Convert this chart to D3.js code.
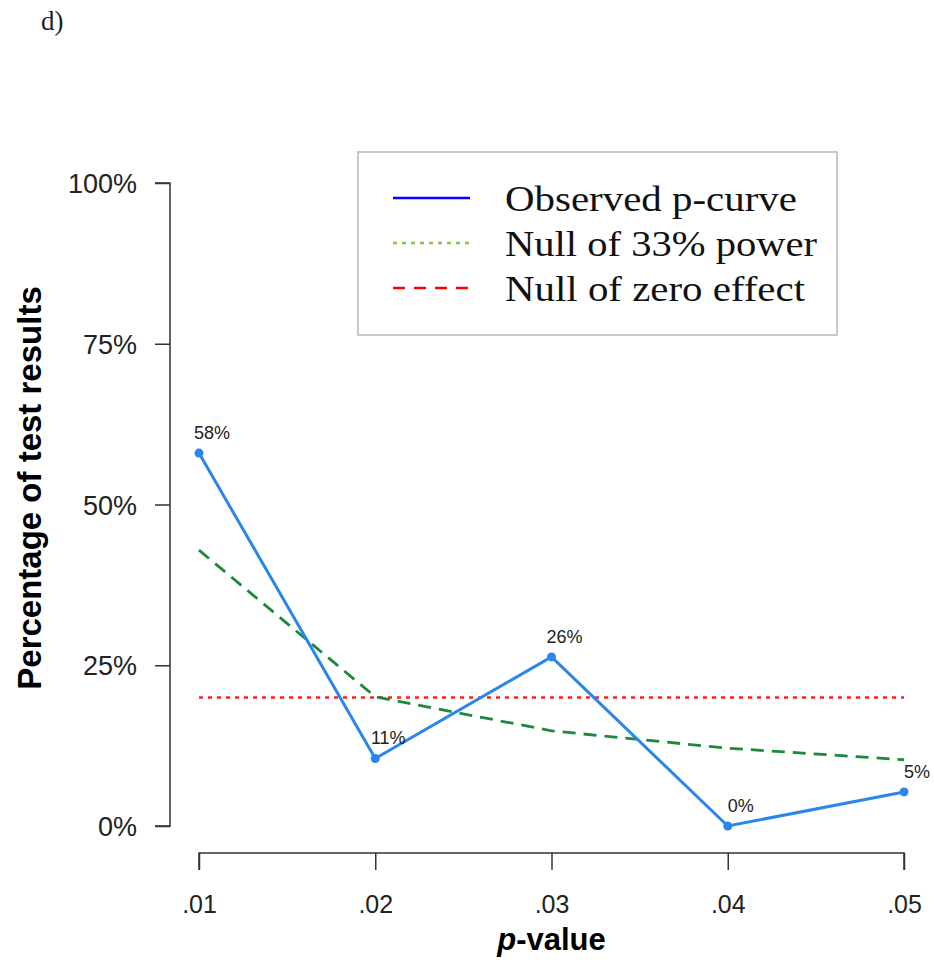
<!DOCTYPE html>
<html>
<head>
<meta charset="utf-8">
<script src="https://cdn.jsdelivr.net/npm/d3@7"></script>
<style>
  body { margin: 0; background: #fff; }
  svg { display: block; }
</style>
</head>
<body>
<div id="chart"></div>
<script>

// Data
var pValues = [0.01, 0.02, 0.03, 0.04, 0.05],
    xTickLabels = [".01", ".02", ".03", ".04", ".05"],
    observed = [58, 10.5, 26.3, 0, 5.3],
    observedLabels = ["58%", "11%", "26%", "0%", "5%"],
    null33 = [42.9, 20.1, 14.8, 12.1, 10.3],
    nullZero = [20, 20, 20, 20, 20],
    yTicks = [0, 25, 50, 75, 100];

var legendItems = [
    { label: "Observed p-curve", color: "#0000ff", dash: null, len: 292 },
    { label: "Null of 33% power", color: "#86c440", dash: "4,5", len: 312 },
    { label: "Null of zero effect", color: "#ff0000", dash: "12,9", len: 300 }
];

var width = 934,
    height = 963;

var svg = d3.select("#chart").append("svg")
    .attr("width", width)
    .attr("height", height);

// Scales
var x = d3.scaleLinear().domain([0.01, 0.05]).range([199, 904]);
var y = d3.scaleLinear().domain([0, 100]).range([826, 183]);

var sans = "'Liberation Sans', Arial, Helvetica, sans-serif",
    serif = "'Liberation Serif', 'Times New Roman', serif";

// Panel tag
svg.append("text")
    .attr("x", 41).attr("y", 30)
    .attr("font-family", serif)
    .attr("font-size", 27)
    .attr("fill", "#222")
    .text("d)");

// Y axis
var yAxis = svg.append("g")
    .attr("transform", "translate(170,0)")
    .call(d3.axisLeft(y).tickValues(yTicks).tickSize(15).tickPadding(18)
        .tickFormat(function(d) { return d + "%"; }));
yAxis.select(".domain").attr("d", "M-15," + y(0) + "H0V" + y(100) + "H-15");
yAxis.selectAll("path, line").attr("stroke", "#333").attr("stroke-width", 1.5);
yAxis.selectAll("text")
    .style("font-family", sans)
    .style("font-size", "27px")
    .attr("fill", "#222")
    .attr("dy", "0.36em");

// X axis
var xAxis = svg.append("g")
    .attr("transform", "translate(0,853)")
    .call(d3.axisBottom(x).tickValues(pValues).tickSize(17).tickPadding(25)
        .tickFormat(function(d, i) { return xTickLabels[i]; }));
xAxis.select(".domain").attr("d", "M" + x(0.01) + ",17V0H" + x(0.05) + "V17");
xAxis.selectAll("path, line").attr("stroke", "#333").attr("stroke-width", 1.5);
xAxis.selectAll("text")
    .style("font-family", sans)
    .style("font-size", "25px")
    .attr("fill", "#222");

// Axis titles
var xTitle = svg.append("text")
    .attr("x", (x(0.01) + x(0.05)) / 2).attr("y", 950)
    .attr("text-anchor", "middle")
    .style("font-family", sans)
    .style("font-size", "31px")
    .style("font-weight", "bold");
xTitle.append("tspan").style("font-style", "italic").text("p");
xTitle.append("tspan").text("-value");

svg.append("text")
    .attr("transform", "translate(41,488) rotate(-90)")
    .attr("text-anchor", "middle")
    .style("font-family", sans)
    .style("font-size", "33px")
    .style("font-weight", "bold")
    .text("Percentage of test results");

// Lines
var line = d3.line()
    .x(function(d, i) { return x(pValues[i]); })
    .y(function(d) { return y(d); });

svg.append("path")
    .datum(nullZero)
    .attr("d", line)
    .attr("fill", "none")
    .attr("stroke", "#ff2020")
    .attr("stroke-width", 2.5)
    .attr("stroke-dasharray", "4,5");

svg.append("path")
    .datum(null33)
    .attr("d", line)
    .attr("fill", "none")
    .attr("stroke", "#1b8a3a")
    .attr("stroke-width", 2.8)
    .attr("stroke-dasharray", "13,8");

svg.append("path")
    .datum(observed)
    .attr("d", line)
    .attr("fill", "none")
    .attr("stroke", "#2a86ea")
    .attr("stroke-width", 3);

svg.selectAll(".pt")
    .data(observed)
    .enter().append("circle")
    .attr("class", "pt")
    .attr("cx", function(d, i) { return x(pValues[i]); })
    .attr("cy", function(d) { return y(d); })
    .attr("r", 4.5)
    .attr("fill", "#2a86ea");

svg.selectAll(".pt-label")
    .data(observed)
    .enter().append("text")
    .attr("class", "pt-label")
    .attr("x", function(d, i) { return x(pValues[i]) + 13; })
    .attr("y", function(d) { return y(d) - 14; })
    .attr("text-anchor", "middle")
    .style("font-family", sans)
    .style("font-size", "18px")
    .attr("fill", "#222")
    .text(function(d, i) { return observedLabels[i]; });

// Legend
var legend = svg.append("g").attr("transform", "translate(358,152)");
legend.append("rect")
    .attr("width", 479).attr("height", 183)
    .attr("fill", "#fff")
    .attr("stroke", "#c8c8c8")
    .attr("stroke-width", 2);

var item = legend.selectAll(".item")
    .data(legendItems)
    .enter().append("g")
    .attr("class", "item")
    .attr("transform", function(d, i) { return "translate(0," + (46 + i * 45) + ")"; });

item.append("line")
    .attr("x1", 35).attr("x2", 112)
    .attr("stroke", function(d) { return d.color; })
    .attr("stroke-width", 2.5)
    .attr("stroke-dasharray", function(d) { return d.dash; });

item.append("text")
    .attr("x", 147).attr("y", 13)
    .attr("textLength", function(d) { return d.len; })
    .attr("lengthAdjust", "spacingAndGlyphs")
    .style("font-family", serif)
    .style("font-size", "35px")
    .attr("fill", "#111")
    .text(function(d) { return d.label; });

</script>
</body>
</html>
